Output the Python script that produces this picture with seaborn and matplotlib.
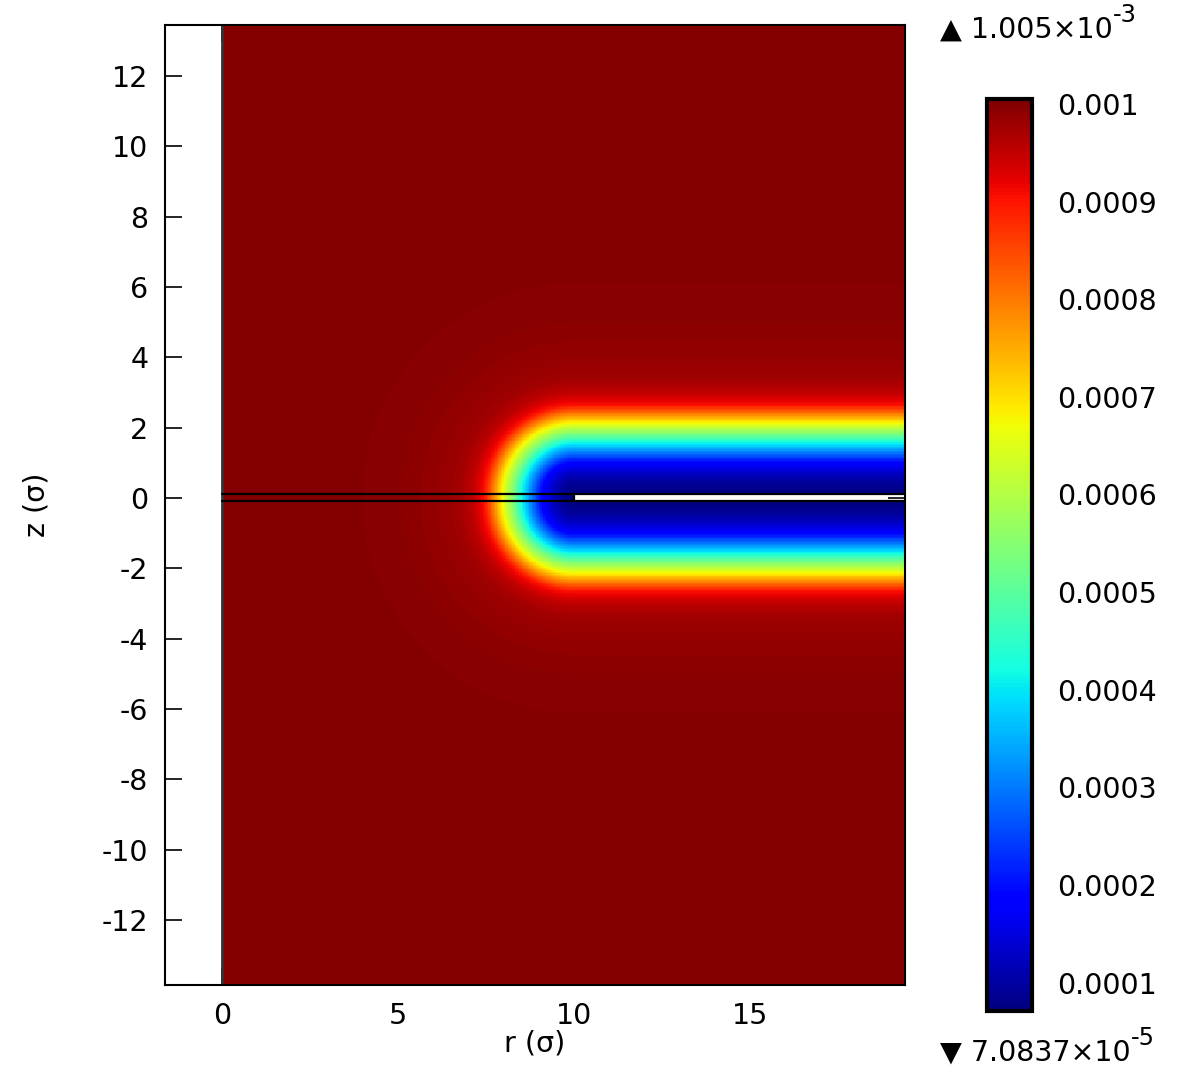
import numpy as np
import pandas as pd
import matplotlib
matplotlib.use("Agg")
import matplotlib.pyplot as plt
import seaborn as sns

# ---------------- data ----------------
# concentration profile vs. distance from the slit surface (sigma)
profile_dist = [0.0, 0.15, 0.4, 0.65, 0.9, 1.18, 1.45, 1.72, 2.0, 2.3,
                2.54, 2.9, 3.3, 4.0, 5.0, 6.5, 8.0]
profile_val = [0.71, 0.80, 0.99, 1.36, 1.83, 2.95, 4.07, 5.38, 6.59, 8.00,
               9.02, 9.54, 9.77, 9.88, 9.95, 9.99, 10.0]  # x 1e-4
val_min = 7.0837e-5
val_max = 1.005e-3
cbar_ticks = [0.0001, 0.0002, 0.0003, 0.0004, 0.0005, 0.0006, 0.0007,
              0.0008, 0.0009, 0.001]
cbar_ticklabels = ["0.0001", "0.0002", "0.0003", "0.0004", "0.0005",
                   "0.0006", "0.0007", "0.0008", "0.0009", "0.001"]
r_ticks = [0, 5, 10, 15]
r_ticklabels = ["0", "5", "10", "15"]
z_ticks = [12, 10, 8, 6, 4, 2, 0, -2, -4, -6, -8, -10, -12]
z_ticklabels = ["12", "10", "8", "6", "4", "2", "0", "-2", "-4", "-6",
                "-8", "-10", "-12"]

# geometry
r_lo, r_hi = -1.62, 19.4
z_lo, z_hi = -13.85, 13.45
slit_r0 = 10.0
slit_half = 0.1

# ---------------- field on a grid ----------------
dr = 0.04
ncol = int(round(r_hi / dr))
nrow = 683
dz = (z_hi - z_lo) / nrow
r_c = (np.arange(ncol) + 0.5) * dr
z_c = z_hi - (np.arange(nrow) + 0.5) * dz
R, Z = np.meshgrid(r_c, z_c)
d = np.hypot(np.maximum(slit_r0 - R, 0.0), np.maximum(np.abs(Z) - slit_half, 0.0))
field = np.interp(d, profile_dist, np.array(profile_val) * 1e-4)
mask = (R >= slit_r0) & (np.abs(Z) < slit_half)
df = pd.DataFrame(field, index=np.round(z_c, 3), columns=np.round(r_c, 3))


def xi(r):
    return r / dr


def yi(z):
    return (z_hi - z) / dz


# ---------------- figure ----------------
sns.set_theme(style="white")
plt.rcParams["font.family"] = ["DejaVu Sans"]
plt.rcParams["axes.unicode_minus"] = False
FS = 20.5

fig = plt.figure(figsize=(12, 10.9), dpi=100)
ax = fig.add_axes([165 / 1200, 1 - 985 / 1090, 740 / 1200, 960 / 1090])
cax = fig.add_axes([987 / 1200, 1 - 1011 / 1090, 45 / 1200, 912 / 1090])

cmap = matplotlib.colormaps["jet"]
sns.heatmap(df, ax=ax, cmap=cmap, vmin=val_min, vmax=val_max, mask=mask,
            cbar_ax=cax, cbar_kws={"ticks": cbar_ticks},
            xticklabels=False, yticklabels=False, rasterized=True)

ax.set_xlim(xi(r_lo), xi(r_hi))
ax.set_ylim(yi(z_lo), yi(z_hi))

for s in ax.spines.values():
    s.set_visible(True)
    s.set_color("black")
    s.set_linewidth(1.5)

# geometry lines
ax.plot([xi(0), xi(0)], [yi(z_lo), yi(z_hi)], color="#333333", lw=2.0)
for zz in (slit_half, -slit_half):
    ax.plot([xi(0), xi(r_hi)], [yi(zz), yi(zz)], color="black", lw=1.6)
ax.plot([xi(slit_r0), xi(slit_r0)], [yi(slit_half), yi(-slit_half)],
        color="black", lw=1.6)

ax.set_xticks([xi(v) for v in r_ticks])
ax.set_xticklabels(r_ticklabels, rotation=0)
ax.set_yticks([yi(v) for v in z_ticks])
ax.set_yticklabels(z_ticklabels, rotation=0)
ax.tick_params(axis="both", which="major", direction="in", top=True,
               right=True, bottom=True, left=True, length=12, width=1.2,
               color="black", labelsize=FS, labelcolor="black")
ax.tick_params(axis="x", pad=12)
ax.tick_params(axis="y", pad=12)
ax.set_xlabel("r (σ)", fontsize=FS, labelpad=0, color="black")
ax.set_ylabel("z (σ)", fontsize=FS, labelpad=37, color="black")

# colorbar
cbar = ax.collections[0].colorbar
cbar.outline.set_visible(True)
cbar.outline.set_linewidth(3)
cbar.outline.set_edgecolor("black")
cbar.set_ticks(cbar_ticks)
cbar.set_ticklabels(cbar_ticklabels)
cax.tick_params(axis="y", which="major", direction="in", left=True,
                right=True, length=7, width=2.5, color="black",
                labelsize=FS, pad=18, labelcolor="black")
cax.minorticks_off()

# max / min annotations
t1 = fig.text(940 / 1200, 1 - 30 / 1090, "▲ 1.005×10", fontsize=FS,
              ha="left", va="center", color="black")
ax.annotate("-3", xy=(1.0, 0.6), xycoords=t1, fontsize=17.5, ha="left",
            va="bottom", annotation_clip=False, color="black")
t2 = fig.text(940 / 1200, 1 - 1053 / 1090, "▼ 7.0837×10", fontsize=FS,
              ha="left", va="center", color="black")
ax.annotate("-5", xy=(1.0, 0.6), xycoords=t2, fontsize=17.5, ha="left",
            va="bottom", annotation_clip=False, color="black")

fig.savefig("out.png", dpi=100)
